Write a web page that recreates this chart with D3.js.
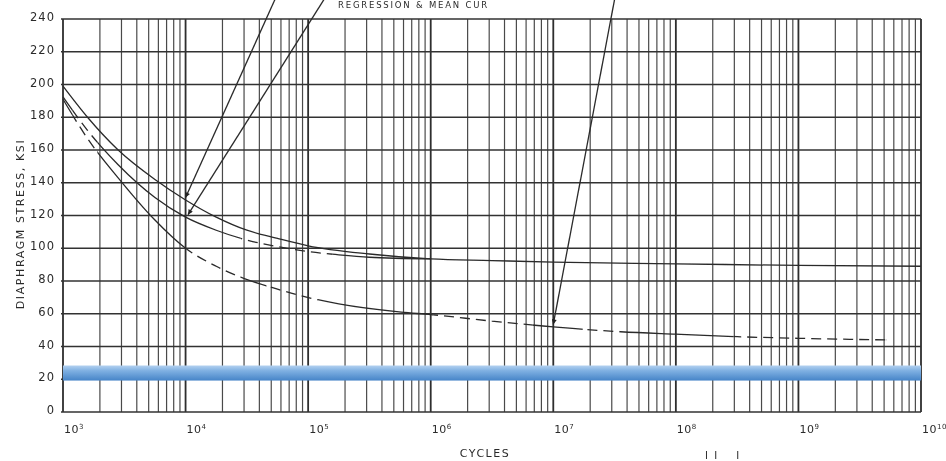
<!DOCTYPE html>
<html><head><meta charset="utf-8">
<script src="https://cdn.jsdelivr.net/npm/d3@7"></script>
<style>
html,body{margin:0;padding:0;background:#fff;}
svg{display:block;}
text{font-family:"DejaVu Sans",sans-serif;fill:#2b2b2b;}
</style></head>
<body>
<svg id="chart" width="946" height="461"></svg>
<script>
// ---------- data ----------
const decades = [3, 4, 5, 6, 7, 8, 9, 10];          // log10(cycles) of major ticks
const minorSteps = [2, 3, 4, 5, 6, 7, 8, 9];
const yTicks = [0, 20, 40, 60, 80, 100, 120, 140, 160, 180, 200, 220, 240];

const curveA_logN = [3, 3.2, 3.45, 3.75, 4, 4.25, 4.5, 4.75, 5, 5.5, 6, 6.5, 7, 8, 9, 10];
const curveA_ksi  = [199, 180, 160, 142, 129.5, 119, 111, 106, 101.5, 96.5, 93.5, 92.5, 91.5, 90.5, 89.5, 89];
const curveA_dashed = [];

const curveB_logN = [3, 3.2, 3.45, 3.75, 4, 4.25, 4.5, 4.75, 5, 5.25, 5.5, 6];
const curveB_ksi  = [192.5, 172, 151, 131, 119, 111, 105, 101, 98, 96, 94.5, 93.5];
const curveB_dashed = [[3.08, 3.28], [4.45, 5.2]];

const curveC_logN = [3, 3.2, 3.45, 3.74, 4, 4.25, 4.48, 4.75, 4.94, 5.25, 5.76, 6, 6.5, 7, 7.55, 8, 8.5, 9, 9.72];
const curveC_ksi  = [191, 167, 143, 118, 100, 89, 81.5, 75, 71, 66, 61, 59.5, 55.5, 52, 49, 47.5, 46, 45, 44];
const curveC_dashed = [[3.08, 3.28], [4.01, 4.45], [4.66, 5.08], [6.02, 6.83], [7.24, 7.54], [8.47, 9.72]];

// arrows: [logN, ksi] tail -> head
const arrowTails = [[4.73, 252], [5.13, 252], [7.5, 252]];
const arrowHeads = [[4.0, 131], [4.02, 120.5], [7.0, 53.5]];

const bandKsi = [19.2, 28.4];

const xLabel = "CYCLES";
const yLabel = "DIAPHRAGM STRESS, KSI";
const topFragment = "REGRESSION & MEAN      CUR";
const bottomMarks = "I  I      I";

// ---------- drawing ----------
const svg = d3.select("#chart");
const x = d3.scaleLog().domain([1e3, 1e10]).range([63, 921]);
const y = d3.scaleLinear().domain([0, 240]).range([412, 19]);
const X = l => x(Math.pow(10, l));

const defs = svg.append("defs");
const blur = defs.append("filter").attr("id", "scan").attr("x", "-5%").attr("y", "-5%").attr("width", "110%").attr("height", "110%");
blur.append("feGaussianBlur").attr("stdDeviation", 0.35);

const grad = defs.append("linearGradient").attr("id", "band").attr("x1", 0).attr("y1", 0).attr("x2", 0).attr("y2", 1);
grad.append("stop").attr("offset", "0%").attr("stop-color", "#b3d1f0");
grad.append("stop").attr("offset", "35%").attr("stop-color", "#7fb0e2");
grad.append("stop").attr("offset", "100%").attr("stop-color", "#4684c8");

defs.append("marker").attr("id", "ah").attr("viewBox", "0 0 10 10")
  .attr("refX", 10).attr("refY", 5).attr("markerUnits", "userSpaceOnUse")
  .attr("markerWidth", 8).attr("markerHeight", 5).attr("orient", "auto")
  .append("path").attr("d", "M0,0L10,5L0,10Z").attr("fill", "#222");

const g = svg.append("g").attr("filter", "url(#scan)");

// vertical grid
const minorVals = [];
decades.slice(0, -1).forEach(d => minorSteps.forEach(m => minorVals.push(m * Math.pow(10, d))));
g.append("g").selectAll("line").data(minorVals).join("line")
  .attr("x1", d => x(d)).attr("x2", d => x(d))
  .attr("y1", y(0)).attr("y2", y(240))
  .attr("stroke", "#4a4a4a").attr("stroke-width", 1.2);
g.append("g").selectAll("line").data(decades).join("line")
  .attr("x1", d => X(d)).attr("x2", d => X(d))
  .attr("y1", y(0)).attr("y2", y(240))
  .attr("stroke", "#2e2e2e").attr("stroke-width", 1.8);

// horizontal grid
g.append("g").selectAll("line").data(yTicks).join("line")
  .attr("x1", X(3) - 2).attr("x2", X(10))
  .attr("y1", d => y(d)).attr("y2", d => y(d))
  .attr("stroke", "#333").attr("stroke-width", 1.5);

// curves
const lineGen = d3.line().x(d => X(d[0])).y(d => y(d[1])).curve(d3.curveMonotoneX);
function drawCurve(id, logs, vals, dashed) {
  const pts = logs.map((l, i) => [l, vals[i]]);
  const lo = logs[0], hi = logs[logs.length - 1];
  const solid = [];
  let cur = lo - 0.1;
  dashed.forEach(r => { solid.push([cur, r[0]]); cur = r[1]; });
  solid.push([cur, hi + 0.1]);
  const mk = (name, ranges) => {
    const cp = defs.append("clipPath").attr("id", id + name);
    ranges.forEach(r => cp.append("rect").attr("x", X(r[0])).attr("width", Math.max(0, X(r[1]) - X(r[0])))
      .attr("y", 0).attr("height", 461));
  };
  mk("s", solid);
  g.append("path").attr("d", lineGen(pts)).attr("fill", "none")
    .attr("stroke", "#2a2a2a").attr("stroke-width", 1.3).attr("clip-path", `url(#${id}s)`);
  if (dashed.length) {
    mk("d", dashed);
    g.append("path").attr("d", lineGen(pts)).attr("fill", "none")
      .attr("stroke", "#2a2a2a").attr("stroke-width", 1.3)
      .attr("stroke-dasharray", "10,6").attr("clip-path", `url(#${id}d)`);
  }
}
drawCurve("cA", curveA_logN, curveA_ksi, curveA_dashed);
drawCurve("cB", curveB_logN, curveB_ksi, curveB_dashed);
drawCurve("cC", curveC_logN, curveC_ksi, curveC_dashed);

// arrows
g.append("g").selectAll("line").data(arrowTails).join("line")
  .attr("x1", d => X(d[0])).attr("y1", d => y(d[1]))
  .attr("x2", (d, i) => X(arrowHeads[i][0])).attr("y2", (d, i) => y(arrowHeads[i][1]))
  .attr("stroke", "#2a2a2a").attr("stroke-width", 1.3).attr("marker-end", "url(#ah)");

// y tick labels
g.append("g").selectAll("text").data(yTicks).join("text")
  .attr("x", 55).attr("y", d => y(d) + 2)
  .attr("text-anchor", "end").attr("font-size", 11.5).attr("letter-spacing", 1)
  .text(d => d);

// x tick labels
const xl = g.append("g").selectAll("text").data(decades).join("text")
  .attr("x", d => X(d) + 1).attr("y", 433).attr("font-size", 11).attr("letter-spacing", 0.5);
xl.append("tspan").text("10");
xl.append("tspan").attr("font-size", 7).attr("dy", -4).text(d => d);

// axis titles
g.append("text").attr("x", 485).attr("y", 457).attr("text-anchor", "middle")
  .attr("font-size", 11).attr("letter-spacing", 1.5).text(xLabel);
g.append("text").attr("transform", "translate(24,224) rotate(-90)").attr("text-anchor", "middle")
  .attr("font-size", 11).attr("letter-spacing", 1.6).text(yLabel);

// faint caption at top (partly lost in the scan)
g.append("text").attr("x", 338).attr("y", 8).attr("font-size", 8.5).attr("letter-spacing", 1.8)
  .attr("fill", "#666").text(topFragment);
g.append("text").attr("x", 705).attr("y", 459).attr("font-size", 10)
  .attr("fill", "#333").attr("xml:space", "preserve").style("white-space", "pre").text(bottomMarks);

// highlight band
svg.append("rect").attr("x", X(3)).attr("width", X(10) - X(3))
  .attr("y", y(bandKsi[1])).attr("height", y(bandKsi[0]) - y(bandKsi[1]))
  .attr("fill", "url(#band)");
</script>
</body></html>
